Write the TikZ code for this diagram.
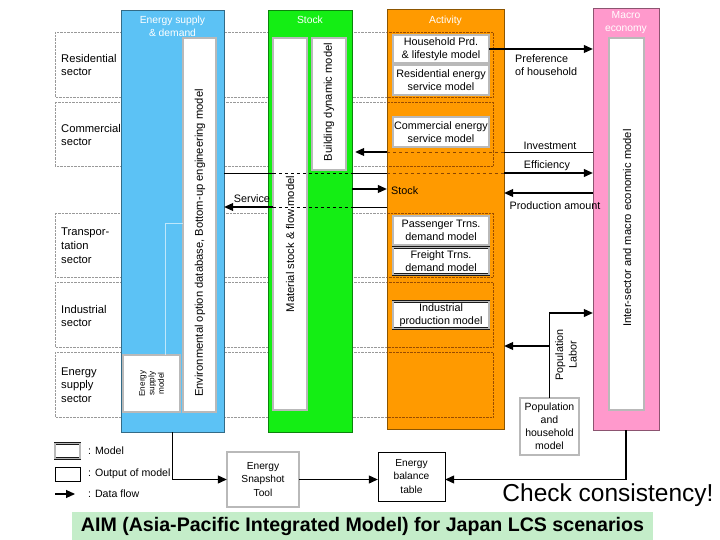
\documentclass[tikz,border=0pt]{standalone}
\usepackage{fontspec}
\setmainfont{Liberation Sans}
\usetikzlibrary{positioning, arrows.meta, calc}
\definecolor{myblue}{HTML}{5CC2F5}
\definecolor{mygreen}{HTML}{14EE14}
\definecolor{myorange}{HTML}{FF9A00}
\definecolor{mypink}{HTML}{FF99CC}
\definecolor{mybanner}{HTML}{C4EDC9}
\tikzset{
	columnnode/.style={
			shape=rectangle,
			draw=#1!55!black,
			fill=#1,
			thin,
			inner sep=0pt
		},
	modelnode/.style={
			shape=rectangle,
			draw=black!90,
			double=gray!55,
			double distance=1.5pt,
			fill=white,
			inner sep=0pt
		},
	outputnode/.style={
			shape=rectangle,
			draw=black,
			fill=white,
			thin,
			inner sep=0pt
		}
}
\tikzset{
	coltitle/.style={font=\fontsize{10.3}{13}\selectfont, text=white, align=center},
	sectortext/.style={font=\fontsize{11.2}{13.8}\selectfont, align=left, anchor=west, inner sep=0pt},
	modeltext/.style={font=\fontsize{10.8}{13.5}\selectfont, align=center, inner sep=0pt},
	rotatedtext/.style={font=\fontsize{11.2}{13.5}\selectfont, align=center, inner sep=0pt, rotate=90},
	smalltext/.style={font=\fontsize{10.2}{13.5}\selectfont, align=center, inner sep=0pt},
	legendtext/.style={font=\fontsize{10.6}{12}\selectfont, anchor=west, inner sep=0pt}
}
\tikzset{
	rowline/.style={draw=gray!80, densely dotted, thin},
	flow/.style={-{Triangle[length=9pt,width=8pt]}, line width=1.1pt},
	plainline/.style={line width=0.9pt},
	orangedash/.style={dashed, draw=orange!55!black, line width=0.8pt}
}

\begin{document}
\begin{tikzpicture}[x=1pt, y=-1pt]

              \useasboundingbox (0,0) rectangle (720,540);

              \foreach \ya/\yb in {32/97,102/166,213/277,282/347,352/417}
                \draw[rowline] (55,\ya) rectangle (493,\yb);

              \node[columnnode=myblue, minimum width=103pt, minimum height=422pt] (esd) at (172.5,221) {};
              \node[columnnode=mygreen, minimum width=84pt, minimum height=422pt] (stk) at (310,221) {};
              \node[columnnode=myorange, minimum width=117pt, minimum height=420pt] (act) at (445.5,219.5) {};
              \node[columnnode=mypink, minimum width=66pt, minimum height=422pt] (mac) at (626,219) {};

              \begin{scope}
                \clip (act.north west) rectangle (act.south east);
                \foreach \ya/\yb in {32/97,102/166,213/277,282/347,352/417}
                  \draw[densely dotted, draw=orange!60!black] (55,\ya) rectangle (493,\yb);
              \end{scope}

              \node[coltitle] at (172.5,26.5) {Energy supply\\\& demand};
              \node[coltitle] at (310,20) {Stock};
              \node[coltitle] at (445.5,21) {Activity};
              \node[coltitle] at (626,22.5) {Macro\\economy};

              \node[modelnode, minimum width=33pt, minimum height=374pt] (envdb) at (199.5,225) {};
              \node[modelnode, minimum width=57pt, minimum height=57pt] (esm) at (151.5,383.5) {};
              \node[modelnode, minimum width=34pt, minimum height=372pt] (msf) at (290,224) {};
              \node[modelnode, minimum width=34pt, minimum height=132pt] (bdm) at (329,104) {};
              \node[modelnode, minimum width=35pt, minimum height=372pt] (ie) at (626.5,224) {};

              \node[modelnode, minimum width=96pt, minimum height=28pt] (hpl) at (441,49) {};
              \node[modelnode, minimum width=96pt, minimum height=30pt] (res) at (441,80) {};
              \node[modelnode, minimum width=96pt, minimum height=30pt] (com) at (441,132) {};
              \node[modelnode, minimum width=96pt, minimum height=29pt] (pas) at (441,230.5) {};
              \node[modelnode, minimum width=96pt, minimum height=27pt] (fre) at (441,261) {};
              \node[modelnode, minimum width=96pt, minimum height=27pt] (ind) at (441,315) {};
              \node[modelnode, minimum width=59pt, minimum height=57pt] (pop) at (549.5,426.5) {};
              \node[modelnode, minimum width=72pt, minimum height=55pt] (est) at (263,479.5) {};
              \node[outputnode, minimum width=67pt, minimum height=49pt] (ebt) at (411.5,476.5) {};

              \node[rotatedtext] at (200,243) {Environmental option database, Bottom-up engineering model};
              \node[font=\fontsize{8.2}{9.5}\selectfont, align=center, rotate=90] at (151.5,383.5) {Energy\\supply\\model};
              \node[rotatedtext] at (290,244) {Material stock \& flow model};
              \node[rotatedtext] at (329,102) {Building dynamic model};
              \node[rotatedtext] at (627,228) {Inter-sector and macro economic model};

              \node[modeltext] at (hpl) {Household Prd.\\\& lifestyle model};
              \node[modeltext] at (res) {Residential energy\\service model};
              \node[modeltext] at (com) {Commercial energy\\service model};
              \node[modeltext] at (pas) {Passenger Trns.\\demand model};
              \node[modeltext] at (fre) {Freight Trns.\\demand model};
              \node[modeltext] at (ind) {Industrial\\production model};
              \node[modeltext, font=\fontsize{10.5}{13}\selectfont] at (pop) {Population\\and\\household\\model};
              \node[smalltext] at (est) {Energy\\Snapshot\\Tool};
              \node[smalltext] at (ebt) {Energy\\balance\\table};

              \node[sectortext] at (61,65) {Residential\\sector};
              \node[sectortext] at (61,135) {Commercial\\sector};
              \node[sectortext] at (61,246) {Transpor-\\tation\\sector};
              \node[sectortext] at (61,316) {Industrial\\sector};
              \node[sectortext] at (61,385) {Energy\\supply\\sector};

              \draw[draw=white!60!myblue, thin] (envdb.west |- 0,223) -| (esm.north -| 165,0);

              \coordinate (yinv) at (0,152);
              \coordinate (yeff) at (0,173);
              \coordinate (ysto) at (0,189);
              \coordinate (ypro) at (0,193);
              \coordinate (ysrv) at (0,207);

              \draw[flow] (hpl.east) -- (hpl.east -| mac.west);
              \node[modeltext, align=left, anchor=north west] at (515,54) {Preference\\of household};

              \draw[plainline] (mac.west |- yinv) -- (act.east |- yinv);
              \draw[orangedash] (act.east |- yinv) -- (act.west |- yinv);
              \draw[flow] (act.west |- yinv) -- ($(stk.east |- yinv)+(3,0)$);
              \node[modeltext] at (550,146) {Investment};

              \draw[plainline] (esd.east |- yeff) -- (msf.west |- yeff);
              \draw[plainline, dashed] (msf.west |- yeff) -- (stk.east |- yeff);
              \draw[plainline] (stk.east |- yeff) -- (act.west |- yeff);
              \draw[orangedash] (act.west |- yeff) -- (act.east |- yeff);
              \draw[flow] (act.east |- yeff) -- (mac.west |- yeff);
              \node[modeltext] at (547,166) {Efficiency};

              \draw[flow] (stk.east |- ysto) -- (act.west |- ysto);
              \node[modeltext, anchor=west] at (391,191) {Stock};

              \draw[flow] (mac.west |- ypro) -- (act.east |- ypro);
              \node[modeltext] at (555,206) {Production amount};

              \draw[flow] (msf.west |- ysrv) -- (esd.east |- ysrv);
              \draw[plainline, dashed] (msf.west |- ysrv) -- (stk.east |- ysrv);
              \draw[plainline] (stk.east |- ysrv) -- (act.west |- ysrv);
              \node[modeltext] at (252,199) {Service};

              \draw[flow] (pop.north) |- (mac.west |- 0,313);
              \draw[flow] (pop.north |- 0,346) -- (act.east |- 0,346);
              \node[modeltext, rotate=90] at (566,355) {Population\\Labor};

              \draw[flow] (esd.south) |- (est.west);
              \draw[flow] (est.east) -- (est.east -| ebt.west);
              \draw[flow] (mac.south) |- (est.east -| ebt.east);

              \node[modelnode, minimum width=25pt, minimum height=15pt] (lgmodel) at (67.5,451) {};
              \node[outputnode, minimum width=25pt, minimum height=14pt] (lgout) at (67.5,474) {};
              \coordinate (lgstart) at (55,494);
              \coordinate (lgend) at (75,494);
              \draw[flow] (lgstart) -- (lgend);
              \node[legendtext] at (88,451) {: Model};
              \node[legendtext] at (88,474) {: Output of model};
              \node[legendtext] at (88,494) {: Data flow};

              \node[font=\fontsize{24.5}{28}\selectfont, inner sep=0pt] (chk) at (608,495) {Check consistency!};

              \node[fill=mybanner, minimum width=581pt, minimum height=28pt, inner sep=0pt,
                font=\fontsize{19.6}{22}\selectfont\bfseries] (title) at (362.5,526) {AIM (Asia-Pacific Integrated Model) for Japan LCS scenarios};

            \end{tikzpicture}
\end{document}
